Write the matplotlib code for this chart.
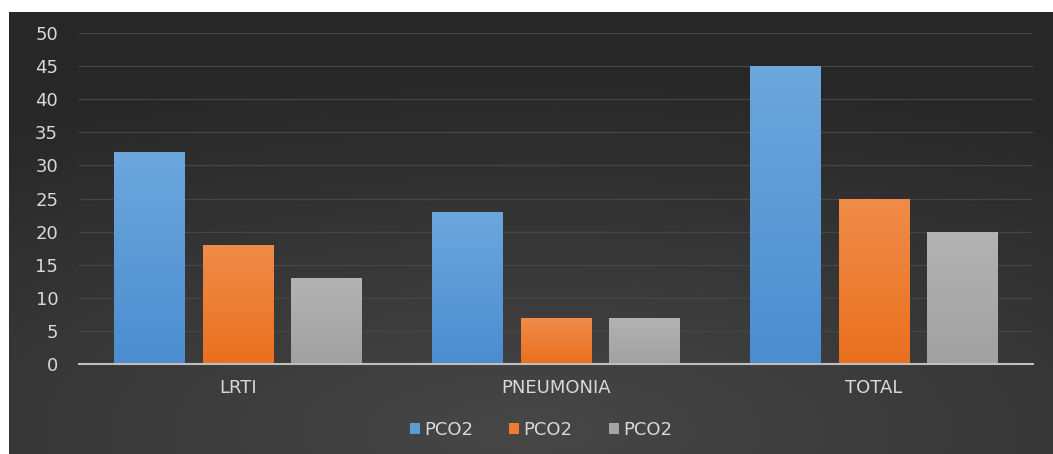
import numpy as np
import matplotlib
matplotlib.use("Agg")
import matplotlib.pyplot as plt
from matplotlib.colors import to_rgb

categories = ["LRTI", "PNEUMONIA", "TOTAL"]
series_names = ["PCO2", "PCO2", "PCO2"]
series_values = [
    [32, 23, 45],
    [18, 7, 25],
    [13, 7, 20],
]
yticks = [0, 5, 10, 15, 20, 25, 30, 35, 40, 45, 50]

colors = ["#5b9bd5", "#ed7d31", "#a5a5a5"]
top_colors = ["#6ca7dd", "#f08c49", "#b3b3b3"]
bottom_colors = ["#4b8dd0", "#ea701e", "#a1a1a1"]
text_color = "#d9d9d9"

plt.rcParams["font.family"] = ["DejaVu Sans"]

fig = plt.figure(figsize=(10.53, 4.54), dpi=100)
fig.patch.set_facecolor("white")

# dark radial background
bg = fig.add_axes([9 / 1053, 0, 1 - 9 / 1053, 1 - 12 / 454])
yy, xx = np.mgrid[0:1:200j, 0:1:400j]
r = np.sqrt(((xx - 0.5) * 1.0) ** 2 + ((yy - 0.95) * 1.2) ** 2)
r = np.clip(r / 1.0, 0, 1)
c_in = np.array(to_rgb("#474747"))
c_out = np.array(to_rgb("#272727"))
img = c_in[None, None, :] * (1 - r[..., None]) + c_out[None, None, :] * r[..., None]
bg.imshow(img, origin="upper", aspect="auto", extent=[0, 1, 1, 0])
bg.axis("off")

ax = fig.add_axes([79 / 1053, 90 / 454, 954 / 1053, (364 - 33) / 454])
ax.set_facecolor("none")

x = np.arange(len(categories))
width = 0.223
offsets = [-0.277, 0, 0.277]

for i, vals in enumerate(series_values):
    bars = ax.bar(x + offsets[i], vals, width, color=colors[i], label=series_names[i],
                  zorder=3)
    # vertical shading on each bar
    grad = np.linspace(0, 1, 100)[:, None, None]
    ct = np.array(to_rgb(top_colors[i]))
    cb = np.array(to_rgb(bottom_colors[i]))
    gimg = ct * (1 - grad) + cb * grad
    for b in bars:
        x0, y0 = b.get_x(), b.get_y()
        w, h = b.get_width(), b.get_height()
        im = ax.imshow(gimg, extent=[x0, x0 + w, y0, y0 + h], origin="upper",
                       aspect="auto", zorder=3.5)
        im.set_clip_path(b)

ax.set_xlim(-0.5, 2.5)
ax.set_ylim(0, 50)
ax.set_yticks(yticks)
ax.set_yticklabels([str(t) for t in yticks])
ax.set_xticks(x)
ax.set_xticklabels(categories)
ax.tick_params(axis="both", length=0, colors=text_color, labelsize=13)
ax.tick_params(axis="y", pad=15)
ax.tick_params(axis="x", pad=11)
ax.yaxis.grid(True, color="#464646", linewidth=0.9, zorder=0)
ax.set_axisbelow(True)
for side in ["top", "right", "left"]:
    ax.spines[side].set_visible(False)
ax.spines["bottom"].set_color("#bfbfbf")
ax.spines["bottom"].set_linewidth(1.5)
ax.spines["bottom"].set_zorder(4)

leg = ax.legend(loc="center", bbox_to_anchor=(541 / 1053, 24 / 454),
                bbox_transform=fig.transFigure, ncol=3, frameon=False,
                fontsize=13, handlelength=0.55, handleheight=0.55,
                handletextpad=0.25, columnspacing=2.0)
for t in leg.get_texts():
    t.set_color(text_color)

fig.savefig("out.png", dpi=100, facecolor=fig.get_facecolor())
